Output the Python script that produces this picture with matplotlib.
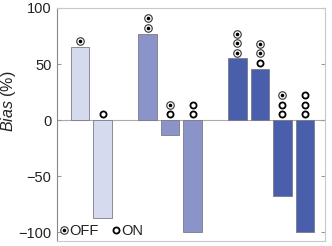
import numpy as np
import matplotlib.pyplot as plt
from matplotlib.lines import Line2D

plt.rcParams['font.family'] = ['Liberation Sans', 'DejaVu Sans']
plt.rcParams['mathtext.fontset'] = 'custom'
plt.rcParams['mathtext.it'] = 'Liberation Sans:italic'
plt.rcParams['mathtext.rm'] = 'Liberation Sans'

# bar values (%), one group per shade
positions = [0, 1, 3, 4, 5, 7, 8, 9, 10]
bias = [65, -87, 77, -13, -100, 55, 46, -68, -100]
colors = ['#d6daef', '#d6daef', '#8a94c8', '#8a94c8', '#8a94c8',
          '#4a5fab', '#4a5fab', '#4a5fab', '#4a5fab']
# marker stack above each bar, listed top to bottom
stacks = [['off'], ['on'], ['off', 'off'], ['off', 'on'], ['on', 'on'],
          ['off', 'off', 'off'], ['off', 'off', 'on'],
          ['off', 'on', 'on'], ['on', 'on', 'on']]

OFF_OUT = dict(marker='o', ms=5.4, mfc='white', mec='#333333', mew=0.8)
OFF_IN = dict(marker='o', ms=2.6, mfc='black', mec='black', mew=0)
ON = dict(marker='o', ms=4.4, mfc='white', mec='black', mew=1.3)


def draw_marker(ax, x, y, kind, **kw):
    if kind == 'off':
        ax.plot(x, y, ls='', **OFF_OUT, **kw)
        ax.plot(x, y, ls='', **OFF_IN, **kw)
    else:
        ax.plot(x, y, ls='', **ON, **kw)


fig = plt.figure(figsize=(3.32, 2.46), dpi=100)
ax = fig.add_axes([0.172, 0.02, 0.807, 0.9475])

ax.bar(positions, bias, width=0.82, color=colors, edgecolor='#7a7a8a', linewidth=0.6, zorder=2)
ax.axhline(0, color='#aaaaaa', lw=0.8, zorder=1)

for x, v, st in zip(positions, bias, stacks):
    base = max(v, 0) + 5.2
    for k, kind in enumerate(reversed(st)):
        draw_marker(ax, x, base + 8.5 * k, kind, zorder=3, clip_on=False)

ax.set_xlim(-1.03, 10.9)
ax.set_ylim(-108, 100)
ax.set_yticks([-100, -50, 0, 50, 100])
ax.set_xticks([])
ax.tick_params(axis='y', direction='in', length=3, color='#999999', labelsize=10.5,
               labelcolor='#222222', right=True, pad=4)
for side in ['top', 'right', 'bottom']:
    ax.spines[side].set_color('#c8c8c8')
ax.spines['left'].set_color('#888888')
for s in ax.spines.values():
    s.set_linewidth(0.8)

ax.set_ylabel(r'$\mathit{Bias}$ (%)', fontsize=11.5, color='#222222')
ax.yaxis.set_label_coords(-0.145, 0.60)

# legend
off_h = (Line2D([], [], ls='', **OFF_OUT), Line2D([], [], ls='', **OFF_IN))
on_h = Line2D([], [], ls='', **ON)
ax.legend([off_h, on_h], ['OFF', 'ON'], loc='lower left', ncol=2, frameon=False,
          fontsize=10.5, handlelength=0.5, handletextpad=0.15, columnspacing=0.9,
          borderaxespad=0.0, borderpad=0.2, labelcolor='#222222')

fig.savefig('out.png', dpi=100)
